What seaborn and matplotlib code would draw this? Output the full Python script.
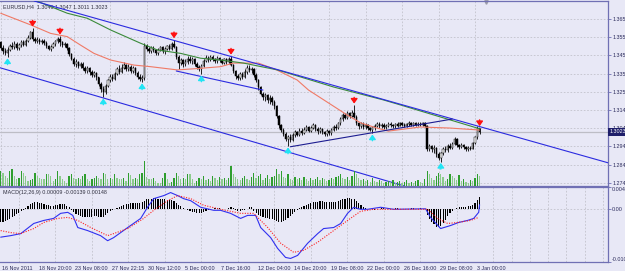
import matplotlib
matplotlib.use('Agg')
import matplotlib.pyplot as plt
import matplotlib.transforms as mtransforms
import numpy as np
import seaborn as sns

# ---- EURUSD H4 bars, 16 Nov 2011 .. 3 Jan 2012 ----
opens = [
    1.3520, 1.3490, 1.3470, 1.3462, 1.3478, 1.3502, 1.3495, 1.3512, 1.3488, 1.3505,
    1.3520, 1.3508, 1.3530, 1.3545, 1.3575, 1.3540, 1.3528, 1.3535, 1.3522, 1.3530,
    1.3518, 1.3500, 1.3485, 1.3495, 1.3510, 1.3525, 1.3540, 1.3520, 1.3505, 1.3512,
    1.3490, 1.3455, 1.3430, 1.3400, 1.3410, 1.3390, 1.3402, 1.3380, 1.3362, 1.3375,
    1.3355, 1.3340, 1.3352, 1.3325, 1.3290, 1.3262, 1.3245, 1.3280, 1.3310, 1.3330,
    1.3318, 1.3345, 1.3370, 1.3355, 1.3380, 1.3395, 1.3372, 1.3385, 1.3360, 1.3378,
    1.3352, 1.3330, 1.3318, 1.3320, 1.3500, 1.3482, 1.3470, 1.3488, 1.3475, 1.3460,
    1.3478, 1.3492, 1.3470, 1.3482, 1.3498, 1.3485, 1.3510, 1.3495, 1.3440, 1.3405,
    1.3420, 1.3398, 1.3412, 1.3430, 1.3415, 1.3425, 1.3400, 1.3385, 1.3372, 1.3390,
    1.3418, 1.3435, 1.3422, 1.3440, 1.3428, 1.3415, 1.3432, 1.3420, 1.3408, 1.3425,
    1.3412, 1.3428, 1.3395, 1.3360, 1.3335, 1.3320, 1.3345, 1.3330, 1.3355, 1.3380,
    1.3365, 1.3372, 1.3340, 1.3310, 1.3270, 1.3235, 1.3215, 1.3228, 1.3200, 1.3212,
    1.3190, 1.3165, 1.3110, 1.3060, 1.3035, 1.3012, 1.2985, 1.2995, 1.2980, 1.3005,
    1.3022, 1.3008, 1.3030, 1.3018, 1.3035, 1.3048, 1.3030, 1.3045, 1.3060, 1.3040,
    1.3025, 1.3038, 1.3022, 1.3010, 1.3028, 1.3015, 1.3032, 1.3050, 1.3042, 1.3070,
    1.3095, 1.3118, 1.3102, 1.3125, 1.3110, 1.3130, 1.3108, 1.3070, 1.3055, 1.3068,
    1.3050, 1.3062, 1.3045, 1.3035, 1.3050, 1.3056, 1.3068, 1.3053, 1.3063, 1.3048,
    1.3056, 1.3068, 1.3060, 1.3053, 1.3066, 1.3058, 1.3070, 1.3063, 1.3056, 1.3066,
    1.3073, 1.3063, 1.3070, 1.3060, 1.3068, 1.3063, 1.3070, 1.3058, 1.2930, 1.2945,
    1.2925, 1.2935, 1.2900, 1.2880, 1.2905, 1.2930, 1.2920, 1.2945, 1.2935, 1.2958,
    1.2985, 1.2950, 1.2940, 1.2952, 1.2938, 1.2928, 1.2935, 1.2930, 1.2960, 1.2992,
    1.3046,
]
highs = [
    1.3530, 1.3505, 1.3488, 1.3492, 1.3512, 1.3520, 1.3525, 1.3522, 1.3518, 1.3532,
    1.3535, 1.3540, 1.3560, 1.3585, 1.3600, 1.3552, 1.3548, 1.3545, 1.3540, 1.3538,
    1.3525, 1.3508, 1.3505, 1.3520, 1.3535, 1.3548, 1.3556, 1.3530, 1.3522, 1.3518,
    1.3495, 1.3462, 1.3438, 1.3425, 1.3418, 1.3412, 1.3410, 1.3390, 1.3388, 1.3382,
    1.3365, 1.3362, 1.3358, 1.3330, 1.3298, 1.3275, 1.3290, 1.3318, 1.3345, 1.3342,
    1.3355, 1.3385, 1.3392, 1.3398, 1.3410, 1.3402, 1.3398, 1.3392, 1.3390, 1.3385,
    1.3360, 1.3342, 1.3340, 1.3518, 1.3510, 1.3495, 1.3498, 1.3500, 1.3482, 1.3490,
    1.3502, 1.3498, 1.3495, 1.3508, 1.3512, 1.3520, 1.3535, 1.3500, 1.3448, 1.3435,
    1.3428, 1.3425, 1.3442, 1.3445, 1.3438, 1.3432, 1.3410, 1.3395, 1.3400, 1.3430,
    1.3448, 1.3445, 1.3452, 1.3450, 1.3435, 1.3442, 1.3440, 1.3428, 1.3435, 1.3432,
    1.3438, 1.3444, 1.3400, 1.3368, 1.3345, 1.3355, 1.3358, 1.3370, 1.3392, 1.3395,
    1.3385, 1.3378, 1.3348, 1.3318, 1.3278, 1.3245, 1.3240, 1.3235, 1.3225, 1.3220,
    1.3198, 1.3170, 1.3118, 1.3068, 1.3045, 1.3020, 1.3005, 1.3010, 1.3015, 1.3035,
    1.3030, 1.3045, 1.3042, 1.3050, 1.3062, 1.3055, 1.3058, 1.3072, 1.3065, 1.3048,
    1.3050, 1.3045, 1.3030, 1.3040, 1.3035, 1.3045, 1.3062, 1.3065, 1.3080, 1.3108,
    1.3130, 1.3128, 1.3138, 1.3135, 1.3142, 1.3172, 1.3115, 1.3080, 1.3080, 1.3075,
    1.3072, 1.3068, 1.3052, 1.3058, 1.3066, 1.3080, 1.3076, 1.3073, 1.3070, 1.3066,
    1.3078, 1.3076, 1.3068, 1.3073, 1.3076, 1.3078, 1.3080, 1.3070, 1.3073, 1.3083,
    1.3080, 1.3078, 1.3076, 1.3076, 1.3078, 1.3080, 1.3076, 1.3063, 1.2958, 1.2952,
    1.2948, 1.2940, 1.2910, 1.2912, 1.2940, 1.2945, 1.2955, 1.2960, 1.2968, 1.2995,
    1.2990, 1.2958, 1.2962, 1.2958, 1.2945, 1.2945, 1.2942, 1.2968, 1.3000, 1.3055,
    1.3047,
]
lows = [
    1.3475, 1.3455, 1.3448, 1.3439, 1.3470, 1.3482, 1.3485, 1.3478, 1.3480, 1.3497,
    1.3498, 1.3502, 1.3522, 1.3538, 1.3530, 1.3515, 1.3518, 1.3510, 1.3512, 1.3505,
    1.3490, 1.3475, 1.3470, 1.3488, 1.3502, 1.3515, 1.3500, 1.3492, 1.3495, 1.3480,
    1.3445, 1.3420, 1.3388, 1.3385, 1.3378, 1.3375, 1.3365, 1.3350, 1.3352, 1.3340,
    1.3328, 1.3330, 1.3312, 1.3280, 1.3245, 1.3216, 1.3235, 1.3270, 1.3300, 1.3305,
    1.3310, 1.3338, 1.3345, 1.3350, 1.3370, 1.3360, 1.3362, 1.3350, 1.3348, 1.3340,
    1.3318, 1.3305, 1.3300, 1.3312, 1.3470, 1.3460, 1.3462, 1.3465, 1.3450, 1.3452,
    1.3470, 1.3462, 1.3458, 1.3475, 1.3478, 1.3480, 1.3488, 1.3430, 1.3370, 1.3395,
    1.3385, 1.3388, 1.3402, 1.3405, 1.3400, 1.3388, 1.3370, 1.3360, 1.3344, 1.3382,
    1.3410, 1.3412, 1.3415, 1.3418, 1.3405, 1.3408, 1.3410, 1.3398, 1.3400, 1.3402,
    1.3405, 1.3388, 1.3350, 1.3318, 1.3310, 1.3312, 1.3318, 1.3322, 1.3345, 1.3355,
    1.3350, 1.3330, 1.3300, 1.3255, 1.3225, 1.3200, 1.3195, 1.3185, 1.3180, 1.3172,
    1.3150, 1.3100, 1.3045, 1.3020, 1.2998, 1.2970, 1.2944, 1.2965, 1.2972, 1.2995,
    1.2998, 1.3002, 1.3008, 1.3010, 1.3025, 1.3020, 1.3022, 1.3038, 1.3030, 1.3012,
    1.3015, 1.3010, 1.2998, 1.3002, 1.3005, 1.3008, 1.3025, 1.3035, 1.3038, 1.3062,
    1.3085, 1.3092, 1.3095, 1.3100, 1.3105, 1.3098, 1.3060, 1.3040, 1.3045, 1.3038,
    1.3040, 1.3032, 1.3025, 1.3016, 1.3035, 1.3048, 1.3043, 1.3046, 1.3038, 1.3040,
    1.3050, 1.3050, 1.3046, 1.3046, 1.3050, 1.3053, 1.3056, 1.3048, 1.3050, 1.3058,
    1.3056, 1.3056, 1.3053, 1.3054, 1.3056, 1.3058, 1.3050, 1.2918, 1.2915, 1.2910,
    1.2905, 1.2885, 1.2868, 1.2858, 1.2895, 1.2910, 1.2912, 1.2925, 1.2928, 1.2950,
    1.2940, 1.2928, 1.2932, 1.2925, 1.2918, 1.2915, 1.2922, 1.2925, 1.2955, 1.2985,
    1.3011,
]
closes = [
    1.3490, 1.3470, 1.3462, 1.3478, 1.3502, 1.3495, 1.3512, 1.3488, 1.3505, 1.3520,
    1.3508, 1.3530, 1.3545, 1.3575, 1.3540, 1.3528, 1.3535, 1.3522, 1.3530, 1.3518,
    1.3500, 1.3485, 1.3495, 1.3510, 1.3525, 1.3540, 1.3520, 1.3505, 1.3512, 1.3490,
    1.3455, 1.3430, 1.3400, 1.3410, 1.3390, 1.3402, 1.3380, 1.3362, 1.3375, 1.3355,
    1.3340, 1.3352, 1.3325, 1.3290, 1.3262, 1.3245, 1.3280, 1.3310, 1.3330, 1.3318,
    1.3345, 1.3370, 1.3355, 1.3380, 1.3395, 1.3372, 1.3385, 1.3360, 1.3378, 1.3352,
    1.3330, 1.3318, 1.3320, 1.3500, 1.3482, 1.3470, 1.3488, 1.3475, 1.3460, 1.3478,
    1.3492, 1.3470, 1.3482, 1.3498, 1.3485, 1.3510, 1.3495, 1.3440, 1.3405, 1.3420,
    1.3398, 1.3412, 1.3430, 1.3415, 1.3425, 1.3400, 1.3385, 1.3372, 1.3390, 1.3418,
    1.3435, 1.3422, 1.3440, 1.3428, 1.3415, 1.3432, 1.3420, 1.3408, 1.3425, 1.3412,
    1.3428, 1.3395, 1.3360, 1.3335, 1.3320, 1.3345, 1.3330, 1.3355, 1.3380, 1.3365,
    1.3372, 1.3340, 1.3310, 1.3270, 1.3235, 1.3215, 1.3228, 1.3200, 1.3212, 1.3190,
    1.3165, 1.3110, 1.3060, 1.3035, 1.3012, 1.2985, 1.2995, 1.2980, 1.3005, 1.3022,
    1.3008, 1.3030, 1.3018, 1.3035, 1.3048, 1.3030, 1.3045, 1.3060, 1.3040, 1.3025,
    1.3038, 1.3022, 1.3010, 1.3028, 1.3015, 1.3032, 1.3050, 1.3042, 1.3070, 1.3095,
    1.3118, 1.3102, 1.3125, 1.3110, 1.3130, 1.3108, 1.3070, 1.3055, 1.3068, 1.3050,
    1.3062, 1.3045, 1.3035, 1.3050, 1.3056, 1.3068, 1.3053, 1.3063, 1.3048, 1.3056,
    1.3068, 1.3060, 1.3053, 1.3066, 1.3058, 1.3070, 1.3063, 1.3056, 1.3066, 1.3073,
    1.3063, 1.3070, 1.3060, 1.3068, 1.3063, 1.3070, 1.3058, 1.2930, 1.2945, 1.2925,
    1.2935, 1.2900, 1.2880, 1.2905, 1.2930, 1.2920, 1.2945, 1.2935, 1.2958, 1.2985,
    1.2950, 1.2940, 1.2952, 1.2938, 1.2928, 1.2935, 1.2930, 1.2960, 1.2992, 1.3046,
    1.3023,
]
volumes = [
    15, 13, 10, 8, 15, 17, 10, 7, 8, 15, 13, 10, 5, 6, 7, 13, 10, 8, 7, 7,
    12, 12, 10, 5, 7, 15, 10, 7, 5, 3, 10, 12, 8, 7, 8, 7, 10, 12, 7, 5,
    7, 8, 10, 8, 7, 13, 12, 7, 8, 7, 12, 8, 7, 7, 8, 5, 13, 11, 7, 8,
    7, 12, 13, 25, 9, 7, 7, 8, 5, 3, 3, 8, 13, 7, 3, 4, 8, 13, 10, 7,
    8, 7, 12, 12, 7, 3, 5, 8, 7, 10, 6, 7, 5, 10, 8, 6, 9, 7, 8, 6,
    8, 20, 12, 9, 7, 6, 8, 10, 7, 6, 9, 13, 8, 10, 12, 6, 8, 11, 7, 9,
    10, 17, 12, 15, 9, 8, 12, 7, 6, 9, 7, 8, 6, 9, 7, 5, 8, 6, 7, 9,
    6, 8, 7, 5, 6, 8, 7, 9, 10, 12, 8, 7, 9, 6, 10, 15, 12, 8, 6, 7,
    5, 6, 4, 8, 5, 4, 6, 5, 3, 4, 5, 4, 6, 3, 4, 5, 3, 4, 6, 3,
    4, 3, 5, 6, 4, 3, 7, 15, 12, 8, 6, 10, 13, 12, 9, 5, 7, 12, 10, 8,
    6, 11, 5, 7, 4, 3, 6, 5, 8, 12, 10,
]
macd_hist = [
    -0.0027, -0.0026, -0.0024, -0.0022, -0.0020, -0.0017, -0.0014, -0.0011, -0.0008, -0.0005,
    -0.0002, 0.0002, 0.0005, 0.0009, 0.0012, 0.0013, 0.0013, 0.0012, 0.0011, 0.0010,
    0.0008, 0.0007, 0.0006, 0.0006, 0.0007, 0.0008, 0.0010, 0.0010, 0.0009, 0.0006,
    0.0003, -0.0002, -0.0006, -0.0010, -0.0013, -0.0015, -0.0016, -0.0017, -0.0017, -0.0016,
    -0.0016, -0.0015, -0.0015, -0.0016, -0.0017, -0.0016, -0.0013, -0.0009, -0.0005, -0.0002,
    0.0000, 0.0002, 0.0004, 0.0006, 0.0008, 0.0009, 0.0010, 0.0011, 0.0011, 0.0012,
    0.0012, 0.0012, 0.0013, 0.0016, 0.0019, 0.0020, 0.0020, 0.0021, 0.0021, 0.0020,
    0.0020, 0.0019, 0.0019, 0.0018, 0.0018, 0.0017, 0.0016, 0.0012, 0.0008, 0.0005,
    0.0002, -0.0001, -0.0003, -0.0005, -0.0006, -0.0007, -0.0008, -0.0009, -0.0008, -0.0007,
    -0.0005, -0.0003, -0.0002, 0.0000, 0.0001, 0.0002, 0.0001, 0.0000, -0.0001, 0.0000,
    0.0002, 0.0003, 0.0001, -0.0002, -0.0004, -0.0004, -0.0003, -0.0002, 0.0000, 0.0003,
    0.0004, -0.0004, -0.0008, -0.0012, -0.0015, -0.0017, -0.0018, -0.0019, -0.0020, -0.0021,
    -0.0022, -0.0024, -0.0026, -0.0027, -0.0025, -0.0022, -0.0019, -0.0015, -0.0011, -0.0007,
    -0.0003, 0.0001, 0.0003, 0.0005, 0.0008, 0.0010, 0.0012, 0.0013, 0.0014, 0.0014,
    0.0015, 0.0015, 0.0014, 0.0014, 0.0013, 0.0013, 0.0013, 0.0014, 0.0015, 0.0017,
    0.0019, 0.0020, 0.0021, 0.0021, 0.0020, 0.0019, 0.0016, 0.0012, 0.0008, 0.0004,
    0.0001, 0.0000, -0.0001, -0.0002, -0.0002, -0.0001, 0.0000, 0.0001, 0.0001, 0.0000,
    -0.0001, -0.0001, 0.0000, 0.0001, 0.0001, 0.0000, 0.0000, -0.0001, -0.0001, 0.0000,
    0.0001, 0.0001, 0.0000, 0.0000, 0.0001, 0.0000, 0.0000, -0.0012, -0.0020, -0.0026,
    -0.0031, -0.0035, -0.0036, -0.0034, -0.0028, -0.0022, -0.0015, -0.0009, -0.0004, 0.0000,
    0.0002, 0.0003, 0.0003, 0.0004, 0.0004, 0.0005, 0.0006, 0.0008, 0.0012, 0.0018,
    0.0024,
]

# moving averages, read as points (bar index, price)
red_ma_bar = [0, 13.2, 21.9, 29.2, 35, 40.9, 48.2, 58.4, 65.8, 77.5, 87.7, 96.4, 102, 113,
              121, 130, 135, 152, 158, 165, 170, 184, 197, 210]
red_ma_val = [1.3682, 1.3617, 1.3570, 1.3552, 1.3505, 1.3459, 1.3422, 1.3394, 1.3385, 1.3367,
              1.3376, 1.3385, 1.3405, 1.3405, 1.3367, 1.3311, 1.3255, 1.3116, 1.3072, 1.3044,
              1.3027, 1.3050, 1.3044, 1.3033]
green_ma_bar = [14.6, 29.2, 38, 48.2, 61.4, 68.7, 78.9, 87.7, 96.4, 106.5, 121.4, 146, 167.9,
                175.4, 210]
green_ma_val = [1.3756, 1.3682, 1.3654, 1.3589, 1.3515, 1.3478, 1.3459, 1.3432, 1.3422, 1.3405,
                1.3367, 1.3272, 1.3200, 1.3172, 1.3040]

# drawn trend lines (bar index, price)
channel_top = [(20, 1.3731), (240, 1.2945)]
channel_bottom = [(0, 1.3378), (150, 1.2822)]
mid_line = [(77, 1.3361), (115, 1.3255)]
triangle_line = [(127, 1.2940), (198, 1.3094)]

# fractals
fractal_up_bars = [14, 26, 76, 101, 155, 210]
fractal_down_bars = [3, 45, 62, 88, 126, 163, 193]

# MACD lines, read as points (bar index, value)
macd_bar = [0, 4.4, 8.8, 14.5, 18.9, 23.2, 26.3, 29.4, 31.6, 33.8, 38.1, 43.8, 46.9, 49.5, 55.7,
            61.4, 64.4, 67.1, 71.5, 74.5, 77.6, 80.2, 83.3, 87.7, 93.4, 96.4, 100.8, 105.2,
            108.3, 111.8, 114.0, 118.4, 121.4, 124.9, 127.1, 130.2, 134.6, 139.0, 141.6, 146.0,
            149.1, 152.1, 154.8, 157.8, 160.9, 166.6, 172.3, 186.3, 188.5, 192.9, 197.3, 200.8,
            204.7, 207.4, 209.6, 210]
macd_main = [-0.0056, -0.0053, -0.0049, -0.0029, -0.0023, -0.0019, -0.0009, -0.0007, -0.0013,
             -0.0037, -0.0043, -0.0053, -0.0063, -0.0057, -0.0037, -0.0019, 0.0003, 0.0020,
             0.0026, 0.0032, 0.0026, 0.0020, 0.0016, 0.0003, -0.0003, -0.0003, -0.0009, -0.0019,
             -0.0013, -0.0013, -0.0037, -0.0057, -0.0078, -0.0096, -0.0098, -0.0092, -0.0068,
             -0.0049, -0.0039, -0.0037, -0.0029, -0.0009, 0.0003, -0.0001, -0.0001, 0.0003,
             -0.0001, 0.0000, -0.0017, -0.0039, -0.0033, -0.0027, -0.0023, -0.0019, -0.0007,
             0.0008]
signal_bar = [0, 4.4, 8.8, 14.5, 18.9, 25.0, 29.4, 33.8, 39.5, 46.9, 49.5, 55.7, 62.7, 67.1,
              73.2, 77.6, 83.3, 89.0, 96.4, 105.2, 110.9, 117.1, 122.8, 128.5, 132.8, 139.0,
              146.0, 152.1, 157.8, 163.5, 187.2, 191.6, 196.0, 200.4, 206.0, 209.6]
signal_val = [-0.0043, -0.0047, -0.0049, -0.0039, -0.0027, -0.0019, -0.0017, -0.0023, -0.0037,
              -0.0053, -0.0049, -0.0039, -0.0019, -0.0003, 0.0016, 0.0026, 0.0020, 0.0007,
              -0.0001, -0.0009, -0.0009, -0.0037, -0.0068, -0.0086, -0.0082, -0.0066, -0.0043,
              -0.0023, -0.0005, -0.0001, -0.0001, -0.0019, -0.0029, -0.0027, -0.0023, -0.0017]

# axis labels
price_ticks = [1.3650, 1.3549, 1.3448, 1.3346, 1.3245, 1.3144, 1.3043, 1.2942, 1.2841, 1.2740]
price_labels = ['1.365', '1.355', '1.345', '1.335', '1.325', '1.314', '1.304', '1.294',
                '1.284', '1.274']
macd_ticks = [0.0042, 0.0, -0.0106]
macd_labels = ['0.0042', '0.00', '-0.010']
date_bars = [0, 16, 32, 48, 64, 80, 96, 112, 128, 144, 160, 176, 192, 208]
date_labels = ['16 Nov 2011', '18 Nov 20:00', '23 Nov 08:00', '27 Nov 22:15', '30 Nov 12:00',
               '5 Dec 00:00', '7 Dec 16:00', '12 Dec 04:00', '14 Dec 20:00', '19 Dec 08:00',
               '22 Dec 00:00', '26 Dec 16:00', '29 Dec 08:00', '3 Jan 00:00']
last_price = 1.3023
header = 'EURUSD,H4  1.3046 1.3047 1.3011 1.3023'
macd_title = 'MACD(12,26,9) 0.00009 -0.00139 0.00148'

assert len(opens) == len(highs) == len(lows) == len(closes) == len(volumes) == len(macd_hist)

sns.set_style('white')
plt.rcParams['font.family'] = ['Liberation Sans', 'DejaVu Sans']

BG = '#e8e8f6'
FRAME = '#7070b4'
GRID = '#c2c2cc'
TXT = '#2a2a5a'
FS = 3.9

fig = plt.figure(figsize=(6.25, 2.71), dpi=100, facecolor=BG)
ax = fig.add_axes([0, 0.31365, 0.9728, 0.68266], facecolor=BG)
ax2 = fig.add_axes([0, 0.03137, 0.9728, 0.27675], facecolor=BG, sharex=ax)

x = np.arange(len(closes))
o = np.array(opens)
h = np.array(highs)
l = np.array(lows)
c = np.array(closes)
grid_bars = np.arange(0, 267, 8)

# ---- price panel ----
ax.set_xlim(-0.3, 266.3)
ax.set_ylim(1.2722, 1.3750)
ax.set_xticks(grid_bars)
ax.set_yticks(price_ticks, labels=price_labels)
ax.grid(True, color=GRID, ls=(0, (2, 2)), lw=0.6)
ax.set_axisbelow(True)
ax.axhline(last_price, color='#bdbdc6', lw=0.9, zorder=1)

# volumes in their own scale at the bottom
axv = ax.twinx()
axv.set_ylim(0, 185)
axv.axis('off')
vol = np.array(volumes)
rising = np.r_[True, vol[1:] > vol[:-1]]
axv.bar(x[rising], vol[rising], width=0.55, color='#2f9e2f', lw=0)
axv.bar(x[~rising], vol[~rising], width=0.55, color='#8ccb8c', lw=0)

# candles
ax.vlines(x, l, h, color='black', lw=0.6, zorder=3)
up = c >= o
ax.bar(x[up], np.maximum(c - o, 0.00006)[up], bottom=o[up], width=0.62,
       color='white', edgecolor='black', lw=0.35, zorder=4)
ax.bar(x[~up], np.maximum(o - c, 0.00006)[~up], bottom=c[~up], width=0.62,
       color='black', edgecolor='black', lw=0.35, zorder=4)

# moving averages
sns.lineplot(x=red_ma_bar, y=red_ma_val, ax=ax, color='#f07a66', lw=0.8, legend=False, zorder=5)
sns.lineplot(x=green_ma_bar, y=green_ma_val, ax=ax, color='#3a8a3a', lw=0.8, legend=False, zorder=5)

# trend lines
ax.axline(channel_top[0], channel_top[1], color='#2b2be0', lw=0.8, zorder=6)
ax.axline(channel_bottom[0], channel_bottom[1], color='#2b2be0', lw=0.8, zorder=6)
for seg, col in [(mid_line, '#2b2be0'), (triangle_line, '#1c1c90')]:
    sns.lineplot(x=[p[0] for p in seg], y=[p[1] for p in seg], ax=ax, color=col, lw=0.8,
                 legend=False, zorder=6)

# fractal arrows
arrow_style = '-|>,head_width=0.2,head_length=0.28'
for i in fractal_up_bars:
    ax.annotate('', xy=(i, highs[i]), xytext=(0, 5.5), textcoords='offset points',
                arrowprops=dict(arrowstyle=arrow_style, color='#ff1010', lw=1.0,
                                shrinkA=0, shrinkB=1.0), zorder=7)
for i in fractal_down_bars:
    ax.annotate('', xy=(i, lows[i]), xytext=(0, -5.5), textcoords='offset points',
                arrowprops=dict(arrowstyle=arrow_style, color='#22e4f4', lw=1.0,
                                shrinkA=0, shrinkB=1.0), zorder=7)

# chart shift marker
ax.plot([212.6], [0.992], marker='v', ms=2.5, color='#9a9aa8',
        transform=mtransforms.blended_transform_factory(ax.transData, ax.transAxes),
        clip_on=False)

ax.text(3 / 608, 1 - 5.5 / 185, header, transform=ax.transAxes, fontsize=FS,
        color='#303040', va='center', ha='left')
ax.text(1.0025, last_price, '1.3023',
        transform=mtransforms.blended_transform_factory(ax.transAxes, ax.transData),
        fontsize=FS, color='white', va='center', ha='left', clip_on=False, zorder=10,
        bbox=dict(boxstyle='square,pad=0.25', fc='#1e1e6a', ec='none'))

ax.yaxis.tick_right()
ax.tick_params(axis='y', length=2, width=0.6, color=FRAME, labelsize=FS,
               labelcolor=TXT, pad=1.2, direction='out')
ax.tick_params(axis='x', length=0, labelbottom=False)

# ---- MACD panel ----
ax2.set_ylim(-0.0106, 0.0042)
ax2.bar(x, macd_hist, width=0.5, color='black', lw=0, zorder=3)
ax2.axhline(0, color=GRID, ls=(0, (2, 2)), lw=0.6, zorder=1)
sns.lineplot(x=macd_bar, y=macd_main, ax=ax2, color='#3030f0', lw=0.8, legend=False, zorder=4)
sns.lineplot(x=signal_bar, y=signal_val, ax=ax2, color='#ff2020', lw=0.8, ls=(0, (1, 1.3)),
             legend=False, zorder=5)
ax2.text(3 / 608, 1 - 5.5 / 75, macd_title, transform=ax2.transAxes, fontsize=FS,
         color='#303040', va='center', ha='left')

ax2.set_xticks(date_bars, labels=date_labels)
ax2.set_xticks(grid_bars, minor=True)
ax2.grid(True, axis='x', which='minor', color=GRID, ls=(0, (2, 2)), lw=0.6)
ax2.grid(False, axis='x', which='major')
ax2.grid(False, axis='y')
ax2.set_axisbelow(True)
ax2.yaxis.tick_right()
ax2.set_yticks(macd_ticks, labels=macd_labels)
ax2.tick_params(axis='y', length=2, width=0.6, color=FRAME, labelsize=FS,
                labelcolor=TXT, pad=1.0, direction='out')
ax2.tick_params(axis='x', which='major', length=2.2, width=0.6, color=FRAME,
                labelsize=FS, labelcolor=TXT, pad=0.6, direction='out')
ax2.tick_params(axis='x', which='minor', length=0)
ylabs = ax2.get_yticklabels()
ylabs[0].set_va('top')
ylabs[-1].set_va('bottom')
shift = mtransforms.ScaledTranslation(1.5 / 100, 0, fig.dpi_scale_trans)
for lbl in ax2.get_xticklabels():
    lbl.set_ha('left')
    lbl.set_transform(lbl.get_transform() + shift)

for a in (ax, ax2):
    a.set_xlabel('')
    a.set_ylabel('')
    a.spines['left'].set_visible(False)
    for s in ('top', 'right', 'bottom'):
        a.spines[s].set_color(FRAME)
        a.spines[s].set_linewidth(0.9)

fig.savefig('out.png', dpi=100, facecolor=BG)
